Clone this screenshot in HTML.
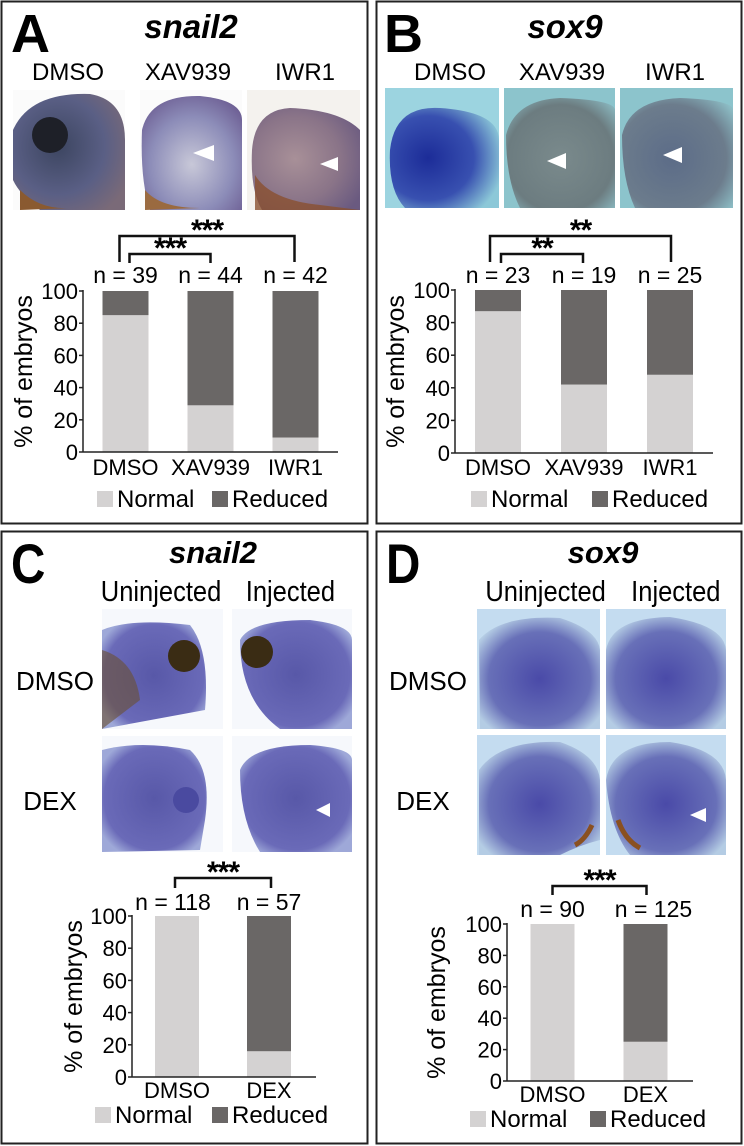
<!DOCTYPE html>
<html><head><meta charset="utf-8"><style>
html,body{margin:0;padding:0;background:#fff;}
svg{display:block;font-family:"Liberation Sans",Arial,sans-serif;}
</style></head><body>
<svg id="fig" width="744" height="1146" viewBox="0 0 744 1146" xmlns="http://www.w3.org/2000/svg">
<defs>
<radialGradient id="gA1" cx="0.4" cy="0.45" r="0.7"><stop offset="0" stop-color="#3c4560"/><stop offset="0.6" stop-color="#5a5f85"/><stop offset="1" stop-color="#7a6a78"/></radialGradient>
<radialGradient id="gA2" cx="0.5" cy="0.6" r="0.7"><stop offset="0" stop-color="#c8c8d8"/><stop offset="0.6" stop-color="#8c8cb8"/><stop offset="1" stop-color="#6a5a90"/></radialGradient>
<radialGradient id="gA3" cx="0.4" cy="0.5" r="0.7"><stop offset="0" stop-color="#a89098"/><stop offset="0.6" stop-color="#8a7488"/><stop offset="1" stop-color="#6a5a80"/></radialGradient>
<radialGradient id="gB1" cx="0.35" cy="0.5" r="0.7"><stop offset="0" stop-color="#1c2c98"/><stop offset="0.6" stop-color="#3850b0"/><stop offset="1" stop-color="#8cc8d8"/></radialGradient>
<radialGradient id="gB2" cx="0.5" cy="0.55" r="0.7"><stop offset="0" stop-color="#7a8a8c"/><stop offset="0.7" stop-color="#6c7c80"/><stop offset="1" stop-color="#8cbcc4"/></radialGradient>
<radialGradient id="gB3" cx="0.45" cy="0.55" r="0.7"><stop offset="0" stop-color="#5c6c88"/><stop offset="0.7" stop-color="#6c7c8c"/><stop offset="1" stop-color="#8cbcc4"/></radialGradient>
<radialGradient id="gC" cx="0.5" cy="0.5" r="0.6"><stop offset="0" stop-color="#5858a8"/><stop offset="0.8" stop-color="#6a6ab8"/><stop offset="1" stop-color="#9ea8d8"/></radialGradient>
<radialGradient id="gD" cx="0.5" cy="0.55" r="0.6"><stop offset="0" stop-color="#4a4aa8"/><stop offset="0.7" stop-color="#6870b8"/><stop offset="1" stop-color="#b4cce4"/></radialGradient>
</defs>

<rect x="1.5" y="1.5" width="366" height="522" fill="none" stroke="#222" stroke-width="2"/>
<rect x="376.5" y="1.5" width="365" height="522" fill="none" stroke="#222" stroke-width="2"/>
<rect x="1.5" y="531.5" width="366" height="612" fill="none" stroke="#222" stroke-width="2"/>
<rect x="376.5" y="531.5" width="365" height="612" fill="none" stroke="#222" stroke-width="2"/>

<text x="11" y="52" font-size="54" font-weight="bold">A</text>
<text x="191" y="38" font-size="33" font-weight="bold" font-style="italic" text-anchor="middle">snail2</text>
<text x="384" y="52" font-size="54" font-weight="bold">B</text>
<text x="565" y="38" font-size="33" font-weight="bold" font-style="italic" text-anchor="middle">sox9</text>
<text x="11" y="583" font-size="56" font-weight="bold" transform="translate(11 583) scale(0.85 1) translate(-11 -583)">C</text>
<text x="213" y="563" font-size="31" font-weight="bold" font-style="italic" text-anchor="middle">snail2</text>
<text x="386" y="583" font-size="56" font-weight="bold" transform="translate(386 583) scale(0.85 1) translate(-386 -583)">D</text>
<text x="603" y="563" font-size="31" font-weight="bold" font-style="italic" text-anchor="middle">sox9</text>

<g font-size="24" text-anchor="middle">
<text x="68" y="80">DMSO</text>
<text x="188" y="80">XAV939</text>
<text x="305" y="80">IWR1</text>
<text x="450" y="80">DMSO</text>
<text x="562" y="80">XAV939</text>
<text x="675" y="80">IWR1</text>
</g>
<g font-size="29" text-anchor="middle" transform="scale(0.88 1)">
<text x="183" y="601">Uninjected</text>
<text x="330" y="601">Injected</text>
<text x="620" y="601">Uninjected</text>
<text x="768" y="601">Injected</text>
</g>
<g font-size="26" text-anchor="middle">
<text x="55" y="690">DMSO</text>
<text x="50" y="810">DEX</text>
<text x="428" y="690">DMSO</text>
<text x="423" y="810">DEX</text>
</g>

<g>
<rect x="13" y="90" width="112" height="120" fill="#fbfbfb"/>
<path d="M13 130 Q30 92 90 94 Q125 100 125 140 L125 210 L40 210 Q20 195 13 180 Z" fill="url(#gA1)"/>
<circle cx="50" cy="135" r="18" fill="#1e2028"/>
<path d="M20 190 Q40 210 70 208 L20 210 Z" fill="#8a5a30"/>
<rect x="140" y="90" width="102" height="120" fill="#fbfbfb"/>
<path d="M142 130 Q150 95 200 96 Q242 100 242 120 L242 210 L150 210 Q140 180 142 130 Z" fill="url(#gA2)"/>
<path d="M145 190 Q160 208 200 208 L145 210 Z" fill="#9a6a40"/>
<rect x="247" y="90" width="113" height="120" fill="#f4f2ee"/>
<path d="M252 150 Q255 110 290 108 Q340 110 360 130 L360 210 L262 210 Q250 190 252 150 Z" fill="url(#gA3)"/>
<path d="M255 175 Q270 200 320 205 L360 210 L255 210 Z" fill="#8a5030" opacity="0.8"/>
<polygon points="193,153 214,145 214,161" fill="#fff"/>
<polygon points="320,164 338,157 338,171" fill="#fff"/>
</g>
<g>
<rect x="385" y="88" width="114" height="120" fill="#9cd4e0"/>
<path d="M390 150 Q395 105 440 108 Q499 112 499 140 L499 208 L405 208 Q388 190 390 150 Z" fill="url(#gB1)"/>
<rect x="504" y="88" width="111" height="120" fill="#8cc4cc"/>
<path d="M506 135 Q515 100 560 98 Q615 100 615 110 L615 208 L520 208 Q506 180 506 135 Z" fill="url(#gB2)"/>
<rect x="620" y="88" width="113" height="120" fill="#8cc4cc"/>
<path d="M622 135 Q630 100 680 98 Q733 100 733 110 L733 208 L635 208 Q622 180 622 135 Z" fill="url(#gB3)"/>
<polygon points="547,161 566,153 566,169" fill="#fff"/>
<polygon points="663,155 682,147 682,163" fill="#fff"/>
</g>
<g>
<rect x="102" y="609" width="121" height="120" fill="#f6f8fc"/>
<path d="M102 630 Q130 618 190 625 Q210 650 205 710 L102 729 Z" fill="url(#gC)"/>
<path d="M102 650 Q135 660 140 700 L102 729 Z" fill="#6a5030" opacity="0.6"/>
<circle cx="184" cy="656" r="16" fill="#3a2c14"/>
<rect x="232" y="609" width="120" height="120" fill="#f6f8fc"/>
<path d="M240 640 Q250 620 310 620 Q352 625 352 640 L352 729 L280 729 Q240 700 240 640 Z" fill="url(#gC)"/>
<circle cx="257" cy="652" r="16" fill="#3a2c14"/>
<rect x="102" y="736" width="121" height="116" fill="#f6f8fc"/>
<path d="M102 750 Q140 740 190 750 Q212 770 205 820 L200 850 L102 852 Z" fill="url(#gC)"/>
<circle cx="186" cy="800" r="13" fill="#4a4aa0"/>
<rect x="232" y="736" width="120" height="116" fill="#f6f8fc"/>
<path d="M240 770 Q250 745 310 745 Q352 748 352 760 L352 852 L260 852 Q240 820 240 770 Z" fill="url(#gC)"/>
<polygon points="316,810 330,803 330,817" fill="#fff"/>
</g>
<g>
<rect x="477" y="609" width="123" height="120" fill="#c4dcf0"/>
<path d="M479 640 Q500 615 560 618 Q598 630 600 650 L600 729 L480 729 Z" fill="url(#gD)"/>
<rect x="606" y="609" width="120" height="120" fill="#c4dcf0"/>
<path d="M606 650 Q612 618 670 617 Q724 625 726 650 L726 729 L606 729 Z" fill="url(#gD)"/>
<rect x="477" y="735" width="123" height="120" fill="#c4dcf0"/>
<path d="M479 770 Q500 740 560 742 Q598 755 600 780 L600 840 Q580 845 560 855 L479 855 Z" fill="url(#gD)"/>
<path d="M575 845 Q585 840 592 825" stroke="#8a5020" stroke-width="5" fill="none"/>
<rect x="606" y="735" width="120" height="120" fill="#c4dcf0"/>
<path d="M606 780 Q612 742 670 742 Q724 750 726 780 L726 855 L630 855 Q610 830 606 780 Z" fill="url(#gD)"/>
<path d="M618 820 Q625 840 640 848" stroke="#8a5020" stroke-width="5" fill="none"/>
<polygon points="690,815 706,808 706,822" fill="#fff"/>
</g>

<g id="charts"></g>
</svg>
<script>
const catsA = ["DMSO", "XAV939", "IWR1"];
const normalA = [85, 29, 9];
const nA = [39, 44, 42];
const sigA = ["***", "***"];

const catsB = ["DMSO", "XAV939", "IWR1"];
const normalB = [87, 42, 48];
const nB = [23, 19, 25];
const sigB = ["**", "**"];

const catsC = ["DMSO", "DEX"];
const normalC = [100, 16];
const nC = [118, 57];
const sigC = ["***"];

const catsD = ["DMSO", "DEX"];
const normalD = [100, 25];
const nD = [90, 125];
const sigD = ["***"];

const yTicks = [0, 20, 40, 60, 80, 100];
const legendLabels = ["Normal", "Reduced"];

const NS = "http://www.w3.org/2000/svg";
const root = document.getElementById("charts");
function mk(tag, attrs, parent, txt) {
  const e = document.createElementNS(NS, tag);
  for (const k in attrs) e.setAttribute(k, attrs[k]);
  if (txt !== undefined) e.textContent = txt;
  (parent || root).appendChild(e);
  return e;
}

function drawChart(id, cats, normal, ns, sigs, L) {
  const g = mk("g", {});
  
  
  const y = v => L.y0 + (L.y100 - L.y0) * v / 100;
  const step = (L.xEnd - L.ax) / cats.length;
  const cx = i => L.ax + step * (i + 0.5) + L.shift;
  cats.forEach((c, i) => {
    const r1 = mk("rect", {x: cx(i) - L.bw / 2, y: y(normal[i]), width: L.bw, height: y(0) - y(normal[i]), fill: "#d4d2d2"}, g);
    
    
    const r2 = mk("rect", {x: cx(i) - L.bw / 2, y: y(100), width: L.bw, height: y(normal[i]) - y(100), fill: "#6a6766"}, g);
    
    
    const xl = mk("text", {x: cx(i), y: L.xlab, "font-size": 22, "text-anchor": "middle"}, g, c);
    
    
    const nl = mk("text", {x: cx(i) + (L.nShift ? L.nShift[i] : 0), y: L.nY, "font-size": 23, "text-anchor": "middle"}, g, "n = " + ns[i]);
    
    
  });
  const ya = mk("line", {x1: L.ax, y1: y(100) - 1, x2: L.ax, y2: y(0), stroke: "#222", "stroke-width": 1.5}, g);
  
  
  const xa = mk("line", {x1: L.ax, y1: y(0), x2: L.xEnd, y2: y(0), stroke: "#222", "stroke-width": 1.5}, g);
  
  
  yTicks.forEach(t => {
    mk("line", {x1: L.ax - 4, y1: y(t), x2: L.ax, y2: y(t), stroke: "#222", "stroke-width": 1.5}, g);
    const tl = mk("text", {x: L.ax - 5, y: y(t) + 8, "font-size": 22, "text-anchor": "end"}, g, String(t));
    
    
  });
  const yt = mk("text", {x: 0, y: 0, "font-size": 25, "text-anchor": "middle", transform: "translate(" + L.titleX + "," + (y(50)) + ") rotate(-90)"}, g, "% of embryos");
  
  
  L.brackets.forEach((b, k) => {
    const x1 = cx(b.a) + b.da, x2 = cx(b.b) + b.db;
    const p = mk("path", {d: "M" + x1 + " " + b.leg + " V" + b.top + " H" + x2 + " V" + b.leg, fill: "none", stroke: "#111", "stroke-width": 2.5}, g);
    
    
    const s = mk("text", {x: (x1 + x2) / 2, y: b.top + 4, "font-size": 30, "font-weight": "bold", "text-anchor": "middle", "letter-spacing": "-1"}, g, sigs[k]);
    
    
  });
  const lg = mk("g", {}, g);
  
  
  const cols = ["#d4d2d2", "#6a6766"];
  legendLabels.forEach((lab, i) => {
    mk("rect", {x: L.leg[i], y: L.legY - 16, width: 16, height: 16, fill: cols[i]}, lg);
    const t = mk("text", {x: L.leg[i] + 20, y: L.legY, "font-size": 24}, lg, lab);
    
    
  });
}

drawChart("a", catsA, normalA, nA, sigA, {ax: 83, xEnd: 338, y0: 452, y100: 291, bw: 46, shift: 0, xlab: 475, nY: 283, titleX: 32, legY: 507, leg: [97, 212],
  brackets: [{a: 0, b: 2, da: -6, db: -1, top: 236, leg: 262}, {a: 0, b: 1, da: 4, db: 0, top: 254, leg: 263}]});
drawChart("b", catsB, normalB, nB, sigB, {ax: 455, xEnd: 713, y0: 453, y100: 290, bw: 46, shift: 0, xlab: 475, nY: 283, titleX: 404, legY: 507, leg: [471, 592],
  brackets: [{a: 0, b: 2, da: -8, db: 1, top: 236, leg: 262}, {a: 0, b: 1, da: 3, db: -1, top: 254, leg: 263}]});
drawChart("c", catsC, normalC, nC, sigC, {ax: 132, xEnd: 316, y0: 1077, y100: 916, bw: 44, shift: -1, xlab: 1098, nY: 910, titleX: 82, legY: 1123, leg: [95, 212], nShift: [-4, 0],
  brackets: [{a: 0, b: 1, da: -2, db: 2, top: 878, leg: 888}]});
drawChart("d", catsD, normalD, nD, sigD, {ax: 507, xEnd: 693, y0: 1081, y100: 924, bw: 44, shift: -1, xlab: 1102, nY: 917, titleX: 445, legY: 1127, leg: [470, 590], nShift: [0, 8],
  brackets: [{a: 0, b: 1, da: 0, db: 1, top: 886, leg: 895}]});
</script>
</body></html>
